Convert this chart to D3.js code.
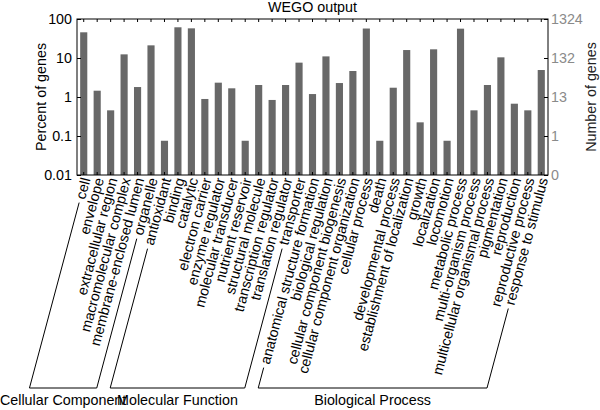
<!DOCTYPE html>
<html>
<head>
<meta charset="utf-8">
<script src="https://cdn.jsdelivr.net/npm/d3@7"></script>
<style>
  html, body { margin: 0; padding: 0; background: #fff; }
  svg { display: block; font-family: "Liberation Sans", Arial, sans-serif; }
</style>
</head>
<body>
<svg id="chart" width="600" height="410"></svg>
<script>
// ---- data ----
const categories = [
  "cell", "envelope", "extracellular region", "macromolecular complex",
  "membrane-enclosed lumen", "organelle",
  "antioxidant", "binding", "catalytic", "electron carrier", "enzyme regulator",
  "molecular transducer", "nutrient reservoir", "structural molecule",
  "transcription regulator", "translation regulator", "transporter",
  "anatomical structure formation", "biological regulation",
  "cellular component biogenesis", "cellular component organization",
  "cellular process", "death", "developmental process",
  "establishment of localization", "growth", "localization", "locomotion",
  "metabolic process", "multi-organism process",
  "multicellular organismal process", "pigmentation", "reproduction",
  "reproductive process", "response to stimulus"
];
const percentValues = [
  45.6, 1.45, 0.455, 12.4, 1.8, 21.1,
  0.0755, 61.3, 57.6, 0.89, 2.33, 1.67, 0.0755, 2.03, 0.84, 2.03, 7.6,
  1.19, 11.0, 2.28, 4.64, 57.0, 0.0755, 1.73, 16.0, 0.224, 16.7, 0.0755,
  56.5, 0.455, 2.03, 10.4, 0.673, 0.455, 4.92
];
const groupNames = ["Cellular Component", "Molecular Function", "Biological Process"];
const groupSizes = [6, 11, 18];
const leftTicks = [100, 10, 1, 0.1, 0.01];
const leftTickLabels = ["100", "10", "1", "0.1", "0.01"];
const rightTickLabels = ["1324", "132", "13", "1", "0"];

(function () {
// ---- layout ----
const svg = d3.select("#chart");
const L = 77, R = 548, T = 19, B = 175;
const angle = -75;
const rad = angle * Math.PI / 180;
const ux = Math.cos(rad), uy = Math.sin(rad);
const bracketBottom = 388;

const x = d3.scaleBand().domain(categories).range([L, R])
  .paddingInner(0.47).paddingOuter(0.235);
const y = d3.scaleLog().domain([0.01, 100]).range([B, T]);
const cx = d => x(d) + x.bandwidth() / 2;

// bars
svg.append("g").selectAll("rect").data(categories).join("rect")
  .attr("x", d => x(d))
  .attr("width", x.bandwidth())
  .attr("y", (d, i) => y(percentValues[i]))
  .attr("height", (d, i) => B - y(percentValues[i]))
  .attr("fill", "#686868");

// axes
const fs = "14.3px";
const axLeft = svg.append("g").attr("transform", `translate(${L},0)`)
  .call(d3.axisLeft(y).tickValues(leftTicks).tickSize(-4).tickSizeOuter(0).tickPadding(5)
    .tickFormat((d, i) => leftTickLabels[i]));
const axRight = svg.append("g").attr("transform", `translate(${R},0)`)
  .call(d3.axisRight(y).tickValues(leftTicks).tickSize(-4).tickSizeOuter(0).tickPadding(3)
    .tickFormat((d, i) => rightTickLabels[i]));
const axTop = svg.append("g").attr("transform", `translate(0,${T})`)
  .call(d3.axisTop(x).tickSize(-3).tickSizeOuter(0).tickFormat(""));
const axBottom = svg.append("g").attr("transform", `translate(0,${B})`)
  .call(d3.axisBottom(x).tickSize(-3).tickSizeOuter(0).tickFormat(""));
[axLeft, axRight, axTop, axBottom].forEach(g => {
  g.select(".domain").remove();
  g.selectAll("line").attr("stroke", "#000");
  g.selectAll("text").attr("font-size", fs).attr("font-family", "Liberation Sans, Arial, sans-serif").attr("fill", "#000");
});
axRight.selectAll("text").attr("fill", "#8a8a8a");

svg.append("rect").attr("x", L).attr("y", T).attr("width", R - L).attr("height", B - T)
  .attr("fill", "none").attr("stroke", "#000").attr("stroke-width", 1);

// titles
svg.append("text").attr("x", (L + R) / 2).attr("y", 12).attr("text-anchor", "middle")
  .attr("font-size", fs).text("WEGO output");
svg.append("text").attr("transform", `translate(46,${(T + B) / 2}) rotate(-90)`)
  .attr("text-anchor", "middle").attr("font-size", fs).text("Percent of genes");
svg.append("text").attr("transform", `translate(596,${(T + B) / 2}) rotate(-90)`)
  .attr("text-anchor", "middle").attr("font-size", fs).attr("fill", "#222").text("Number of genes");

// category labels
const y0 = 178;
const labelG = svg.append("g").selectAll("g").data(categories).join("g")
  .attr("transform", d => `translate(${cx(d) + 2},${y0}) rotate(${angle})`);
const labelTexts = labelG.append("text")
  .attr("text-anchor", "end").attr("dy", "0.35em").attr("font-size", fs)
  .text(d => d);
const lens = labelTexts.nodes().map(n => n.getComputedTextLength());

// brackets
let start = 0;
groupNames.forEach((g, gi) => {
  const first = start, last = start + groupSizes[gi] - 1;
  const lineFor = idx => {
    const ax = cx(categories[idx]) + 2, ay = y0;
    const s = lens[idx] + 4;
    const tx = ax - s * ux, ty = ay - s * uy;
    const t = (bracketBottom - ay) / (-uy);
    const bx = ax - t * ux;
    return { top: [tx, ty], bot: [bx, bracketBottom] };
  };
  const a = lineFor(first), b = lineFor(last);
  svg.append("path")
    .attr("d", d3.line()([a.top, a.bot, b.bot, b.top]))
    .attr("fill", "none").attr("stroke", "#000").attr("stroke-width", 1);
  svg.append("text").attr("x", (a.bot[0] + b.bot[0]) / 2).attr("y", 405)
    .attr("text-anchor", "middle").attr("font-size", fs).text(g);
  start = last + 1;
});
})();
</script>
</body>
</html>
